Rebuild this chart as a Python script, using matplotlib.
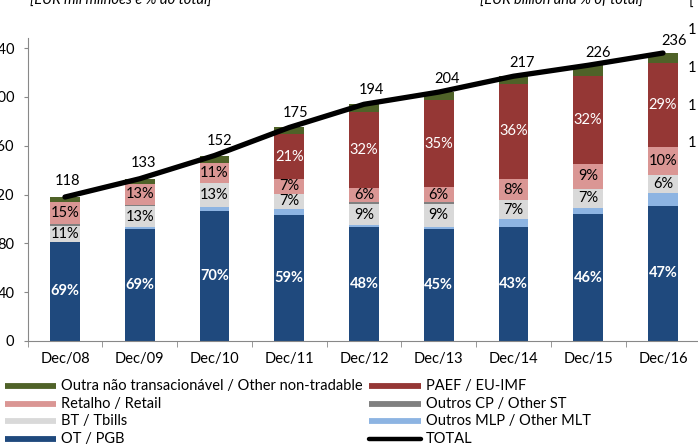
import matplotlib
matplotlib.use('Agg')
import matplotlib.pyplot as plt
from matplotlib.lines import Line2D
import numpy as np

plt.rcParams['font.family'] = ['Lato', 'DejaVu Sans']

# dados (EUR mil milhões)
dates = ['Dec/08', 'Dec/09', 'Dec/10', 'Dec/11', 'Dec/12', 'Dec/13', 'Dec/14', 'Dec/15', 'Dec/16']
total = [118, 133, 152, 175, 194, 204, 217, 226, 236]
ot = [81.4, 91.8, 106.4, 103.3, 93.1, 91.8, 93.3, 104.0, 110.9]
mlp = [0.0, 1.3, 3.3, 4.9, 1.6, 2.0, 6.8, 4.9, 10.7]
bt = [13.0, 17.3, 19.8, 12.3, 17.5, 18.4, 15.2, 15.8, 14.2]
cp = [1.5, 1.3, 0.0, 0.0, 2.0, 1.5, 0.0, 0.0, 0.0]
retail = [17.7, 17.3, 16.7, 12.3, 11.6, 12.2, 17.4, 20.3, 23.6]
paef = [0.0, 0.0, 0.0, 36.8, 62.1, 71.4, 78.1, 72.3, 68.4]
other = [4.4, 4.0, 5.8, 5.4, 6.1, 6.7, 6.2, 8.7, 8.2]

# % do total
ot_pct = [69, 69, 70, 59, 48, 45, 43, 46, 47]
bt_pct = [11, 13, 13, 7, 9, 9, 7, 7, 6]
retail_pct = [15, 13, 11, 7, 6, 6, 8, 9, 10]
paef_pct = [None, None, None, 21, 32, 35, 36, 32, 29]

c_ot = '#1F497D'
c_mlp = '#8DB4E2'
c_bt = '#D9D9D9'
c_cp = '#808080'
c_retail = '#DA9694'
c_paef = '#953735'
c_other = '#4F6228'

W, H = 698, 446
fig = plt.figure(figsize=(W / 100, H / 100), dpi=100)
ax = fig.add_axes([27.6 / W, 105 / H, 672.75 / W, 302.6 / H])

x = np.arange(len(dates))
series = [
    (ot, c_ot, ot_pct, 'white', 'bold'),
    (mlp, c_mlp, None, None, None),
    (bt, c_bt, bt_pct, 'black', 'normal'),
    (cp, c_cp, None, None, None),
    (retail, c_retail, retail_pct, 'black', 'normal'),
    (paef, c_paef, paef_pct, 'white', 'normal'),
    (other, c_other, None, None, None),
]
bottom = np.zeros(len(dates))
for vals, color, pcts, tcolor, weight in series:
    vals = np.array(vals)
    ax.bar(x, vals, 0.4, bottom=bottom, color=color, linewidth=0, zorder=2)
    if pcts is not None:
        for i, p in enumerate(pcts):
            if p is None:
                continue
            ax.text(x[i], bottom[i] + vals[i] / 2, '%d%%' % p, ha='center', va='center',
                    color=tcolor, fontweight=weight, fontsize=10.5, zorder=3)
    bottom += vals

ax.plot(x, total, color='black', linewidth=3.8, solid_capstyle='round', zorder=4)
for i, t in enumerate(total):
    ax.annotate(str(t), (x[i], t), xytext=(3 + i * 1.0, 16 - i * 0.5), textcoords='offset pixels',
                ha='center', va='center', fontsize=10.5)

ax.set_xlim(-0.5, 8.5)
ax.set_ylim(0, 248)
ax.set_yticks([0, 40, 80, 120, 160, 200, 240])
ax.set_xticks(x)
ax.set_xticklabels(dates)
ax.set_xticks(np.arange(-0.5, 9, 1), minor=True)
ax.tick_params(axis='x', which='major', length=0, pad=8, labelsize=10.5)
ax.tick_params(axis='x', which='minor', length=4, color='#888888')
ax.tick_params(axis='y', length=3, pad=6.5, color='#888888', labelsize=10.5)
for s in ['top', 'right']:
    ax.spines[s].set_visible(False)
for s in ['left', 'bottom']:
    ax.spines[s].set_color('#888888')

# titulos (cortados no topo)
fig.text(121 / W, 1 - 5 / H, '[EUR mil milhões e % do total]', style='italic',
         ha='center', va='baseline', fontsize=10.5)
fig.text(562 / W, 1 - 5 / H, '[EUR billion and % of total]', style='italic',
         ha='center', va='baseline', fontsize=10.5)
fig.text(689 / W, 1 - 6 / H, '[', ha='left', va='baseline', fontsize=10.5)
for py in [30, 68, 106, 143]:
    fig.text(688 / W, 1 - py / H, '1', ha='left', va='center', fontsize=10.5)

# legenda
col1 = [('Outra não transacionável / Other non-tradable', c_other),
        ('Retalho / Retail', c_retail),
        ('BT / Tbills', c_bt),
        ('OT / PGB', c_ot)]
col2 = [('PAEF / EU-IMF', c_paef),
        ('Outros CP / Other ST', c_cp),
        ('Outros MLP / Other MLT', c_mlp),
        ('TOTAL', 'black')]
rows = [386, 404, 421, 439]
for (lab, col), py in zip(col1, rows):
    fig.add_artist(Line2D([4.5 / W, 55.7 / W], [1 - py / H] * 2, color=col, linewidth=4.2,
                          solid_capstyle='butt', transform=fig.transFigure))
    fig.text(61 / W, 1 - py / H, lab, ha='left', va='center', fontsize=10.5)
for (lab, col), py in zip(col2, rows):
    cap = 'round' if lab == 'TOTAL' else 'butt'
    lw = 3.2 if lab == 'TOTAL' else 4.2
    fig.add_artist(Line2D([369 / W, 421 / W], [1 - py / H] * 2, color=col, linewidth=lw,
                          solid_capstyle=cap, transform=fig.transFigure))
    fig.text(426 / W, 1 - py / H, lab, ha='left', va='center', fontsize=10.5)

fig.savefig('out.png', dpi=100)
